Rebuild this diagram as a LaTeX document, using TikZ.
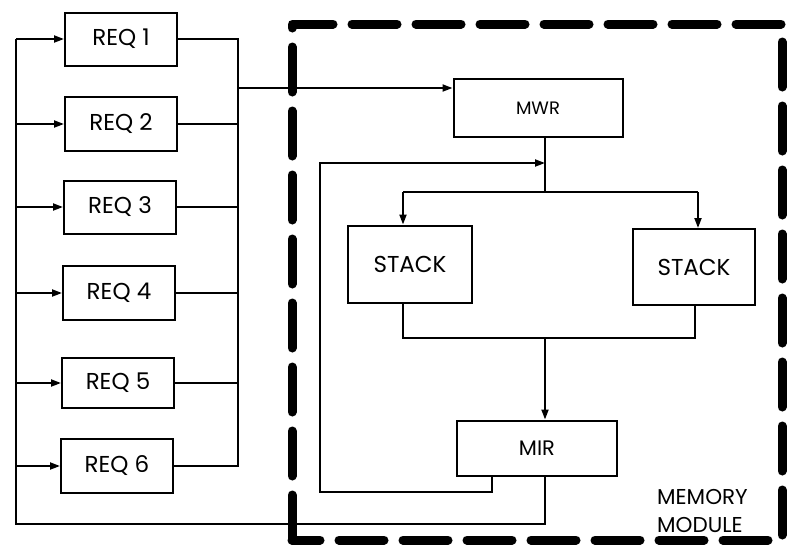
\documentclass[tikz,border=0pt]{standalone}
\usepackage{fontspec}
\setmainfont{Poppins}
\usetikzlibrary{arrows.meta}

\begin{document}
\begin{tikzpicture}[x=1pt,y=-1pt,
  blk/.style={draw,line width=2pt,inner sep=0pt,font=\fontsize{23}{25}\selectfont},
  wire/.style={line width=2pt},
  feed/.style={wire,-{Triangle[length=10pt,width=7pt]}}]
\path[use as bounding box] (0,0) rectangle (787,550);

\node[blk,minimum width=112pt,minimum height=53pt] (req1) at (121,39) {REQ 1};
\node[blk,minimum width=112pt,minimum height=54pt] (req2) at (121,124) {REQ 2};
\node[blk,minimum width=112pt,minimum height=53pt] (req3) at (120,207) {REQ 3};
\node[blk,minimum width=112pt,minimum height=54pt] (req4) at (119,293) {REQ 4};
\node[blk,minimum width=112pt,minimum height=50pt] (req5) at (118,383) {REQ 5};
\node[blk,minimum width=112pt,minimum height=54pt] (req6) at (117,466) {REQ 6};

\node[blk,minimum width=169pt,minimum height=58pt,font=\fontsize{18}{20}\selectfont] (mwr) at (538,108) {MWR};
\node[blk,minimum width=124pt,minimum height=77pt] (stackL) at (410,264) {STACK};
\node[blk,minimum width=122pt,minimum height=76pt] (stackR) at (694,267) {STACK};
\node[blk,minimum width=160pt,minimum height=55pt,font=\fontsize{21}{23}\selectfont] (mir) at (537,448) {MIR};

\node[anchor=north west,align=left,inner sep=0pt,font=\fontsize{21.5}{28}\selectfont] (memlbl) at (657,489) {MEMORY\\MODULE};

\draw[line width=9pt,dash pattern=on 45pt off 19pt,line cap=round,line join=round] (292,540) -- (292,24) -- (782,24) -- (782,540) -- cycle;

\coordinate (rbus) at (238,88);
\coordinate (ret) at (16,524);
\coordinate (spine) at (545,192);
\coordinate (splitL) at (403,192);
\coordinate (splitR) at (698,192);
\coordinate (mergeL) at (403,338);
\coordinate (mergeR) at (695,338);
\coordinate (loopA) at (492,492);
\coordinate (loopB) at (320,163);

\draw[wire] (req1.east) -- (req1.east -| rbus) -- (req6.east -| rbus) -- (req6.east);
\draw[wire] (req2.east) -- (req2.east -| rbus);
\draw[wire] (req3.east) -- (req3.east -| rbus);
\draw[wire] (req4.east) -- (req4.east -| rbus);
\draw[wire] (req5.east) -- (req5.east -| rbus);
\draw[feed] (rbus) -- (rbus -| mwr.west);

\draw[wire] (mwr.south -| spine) -- (spine);
\draw[wire] (splitL) -- (splitR);
\draw[feed] (splitL) -- (splitL |- stackL.north);
\draw[feed] (splitR) -- (splitR |- stackR.north);
\draw[wire] (mergeL |- stackL.south) -- (mergeL) -- (mergeR) -- (mergeR |- stackR.south);
\draw[feed] (mergeL -| spine) -- (spine |- mir.north);

\draw[feed] (loopA |- mir.south) -- (loopA) -| (loopB) -- (loopB -| spine);

\draw[wire] (spine |- mir.south) -- (spine |- ret) -- (ret) -- (ret |- req1.west);
\draw[feed] (ret |- req1.west) -- (req1.west);
\draw[feed] (ret |- req2.west) -- (req2.west);
\draw[feed] (ret |- req3.west) -- (req3.west);
\draw[feed] (ret |- req4.west) -- (req4.west);
\draw[feed] (ret |- req5.west) -- (req5.west);
\draw[feed] (ret |- req6.west) -- (req6.west);
\end{tikzpicture}
\end{document}
